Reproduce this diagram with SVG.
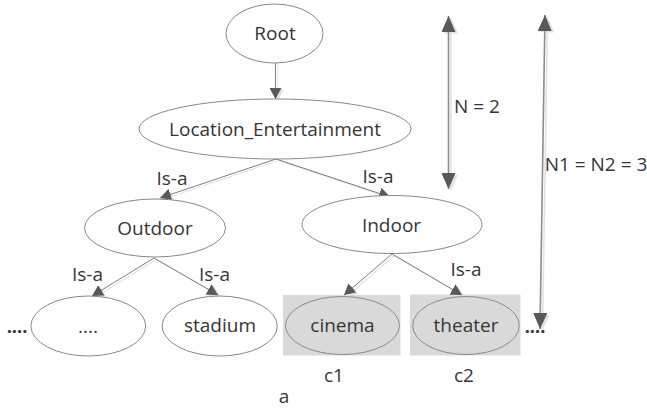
<svg xmlns="http://www.w3.org/2000/svg" xmlns:xlink="http://www.w3.org/1999/xlink" width="647" height="410" viewBox="0 0 647 410">
  <style>
    text { font-family: "Open Sans", "Liberation Sans", sans-serif; font-size: 19px; fill: #363636; text-anchor: middle; }
    .node { fill: #ffffff; stroke: #8a8a8a; stroke-width: 1; }
    .hl-box { fill: #d9d9d9; stroke: none; }
    .hl-node { fill: #d9d9d9; stroke: #8a8a8a; stroke-width: 1; }
    .edge { fill: none; stroke: #7f7f7f; stroke-width: 1; marker-end: url(#arrow); }
    .edge-shadow { fill: none; stroke: #e4e4e4; stroke-width: 1.2; marker-end: url(#arrow-shadow); }
    .span { fill: none; stroke: #8c8c8c; stroke-width: 1.6; marker-start: url(#big); marker-end: url(#big); }
    .span-shadow { fill: none; stroke: #e2e2e2; stroke-width: 1.6; marker-start: url(#big-shadow); marker-end: url(#big-shadow); }
    .dots { font-weight: bold; font-size: 18px; }
  </style>
  <defs>
    <marker id="arrow" markerUnits="userSpaceOnUse" markerWidth="12" markerHeight="12" refX="11" refY="6" orient="auto">
      <path d="M0,0 L11,6 L0,12 z" fill="#595959"/>
    </marker>
    <marker id="arrow-shadow" markerUnits="userSpaceOnUse" markerWidth="12" markerHeight="12" refX="11" refY="6" orient="auto">
      <path d="M0,0 L11,6 L0,12 z" fill="#e4e4e4"/>
    </marker>
    <marker id="big" markerUnits="userSpaceOnUse" markerWidth="17" markerHeight="14" refX="16" refY="7" orient="auto-start-reverse">
      <path d="M0,0 L16,7 L0,14 z" fill="#595959"/>
    </marker>
    <marker id="big-shadow" markerUnits="userSpaceOnUse" markerWidth="17" markerHeight="14" refX="16" refY="7" orient="auto-start-reverse">
      <path d="M0,0 L16,7 L0,14 z" fill="#e2e2e2"/>
    </marker>
    <!-- connector geometry, drawn once as a soft shadow and once on top -->
    <path id="e-root-loc" d="M275.5,63 L275.5,99"/>
    <path id="e-loc-out" d="M276,159 L160,198"/>
    <path id="e-loc-in" d="M276,159 L390,197"/>
    <path id="e-out-dots" d="M154,258 L92,296"/>
    <path id="e-out-stad" d="M154,258 L218,295"/>
    <path id="e-in-cin" d="M392,254 L344,295"/>
    <path id="e-in-the" d="M392,254 L462,295"/>
    <path id="s-n" d="M448.5,16 L448.5,189"/>
    <path id="s-n12" d="M545,15 L540,329"/>
  </defs>

  <!-- highlighted concept boxes -->
  <rect class="hl-box" x="283" y="295" width="117.5" height="60.5"/>
  <rect class="hl-box" x="410" y="294.5" width="110.5" height="61"/>

  <g id="connectors">
    <g transform="translate(2.5,1.5)">
      <use xlink:href="#e-root-loc" class="edge-shadow"/>
      <use xlink:href="#e-loc-out" class="edge-shadow"/>
      <use xlink:href="#e-loc-in" class="edge-shadow"/>
      <use xlink:href="#e-out-dots" class="edge-shadow"/>
      <use xlink:href="#e-out-stad" class="edge-shadow"/>
      <use xlink:href="#e-in-cin" class="edge-shadow"/>
      <use xlink:href="#e-in-the" class="edge-shadow"/>
      <use xlink:href="#s-n" class="span-shadow"/>
      <use xlink:href="#s-n12" class="span-shadow"/>
    </g>
    <use xlink:href="#e-root-loc" class="edge"/>
    <use xlink:href="#e-loc-out" class="edge"/>
    <use xlink:href="#e-loc-in" class="edge"/>
    <use xlink:href="#e-out-dots" class="edge"/>
    <use xlink:href="#e-out-stad" class="edge"/>
    <use xlink:href="#e-in-cin" class="edge"/>
    <use xlink:href="#e-in-the" class="edge"/>
    <use xlink:href="#s-n" class="span"/>
    <use xlink:href="#s-n12" class="span"/>

    <text x="172" y="185">Is-a</text>
    <text x="378" y="183">Is-a</text>
    <text x="87.5" y="281">Is-a</text>
    <text x="214.5" y="281">Is-a</text>
    <text x="466" y="276">Is-a</text>
    <text x="477" y="113">N = 2</text>
    <text x="596" y="171">N1 = N2 = 3</text>
  </g>

  <g id="root">
    <ellipse class="node" cx="274.5" cy="33.5" rx="48.5" ry="29.5"/>
    <text x="275" y="40">Root</text>
  </g>
  <g id="location-entertainment">
    <ellipse class="node" cx="275" cy="129" rx="136" ry="30"/>
    <text x="275" y="136">Location_Entertainment</text>
  </g>
  <g id="outdoor">
    <ellipse class="node" cx="155" cy="228" rx="70.5" ry="29"/>
    <text x="155" y="234.5">Outdoor</text>
  </g>
  <g id="indoor">
    <ellipse class="node" cx="392" cy="224.5" rx="90" ry="29"/>
    <text x="391.5" y="231.5">Indoor</text>
  </g>
  <g id="other">
    <ellipse class="node" cx="88.3" cy="326" rx="57.4" ry="30"/>
    <text x="88" y="333">....</text>
  </g>
  <g id="stadium">
    <ellipse class="node" cx="219.7" cy="326" rx="57.6" ry="30"/>
    <text x="220" y="332">stadium</text>
  </g>
  <g id="cinema">
    <ellipse class="hl-node" cx="342.5" cy="325.5" rx="57" ry="29"/>
    <text x="342.5" y="332">cinema</text>
    <text x="334" y="382">c1</text>
  </g>
  <g id="theater">
    <ellipse class="hl-node" cx="466" cy="325.5" rx="53.3" ry="29"/>
    <text x="466" y="332">theater</text>
    <text x="464" y="382">c2</text>
  </g>

  <text class="dots" x="17" y="333">....</text>
  <text class="dots" x="535" y="333">....</text>
  <text x="284" y="403">a</text>
</svg>
